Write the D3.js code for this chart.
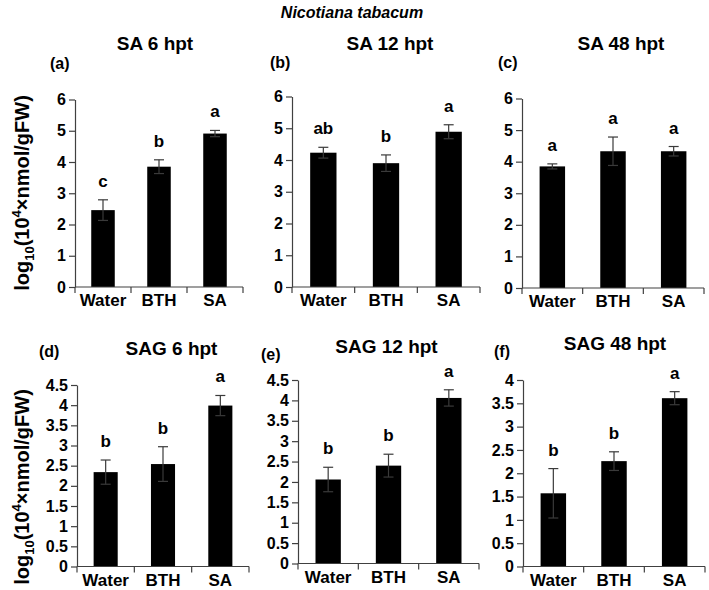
<!DOCTYPE html>
<html>
<head>
<meta charset="utf-8">
<script src="https://cdn.jsdelivr.net/npm/d3@7"></script>
<style>
  body { margin: 0; background: #fff; }
  svg text { font-family: "Liberation Sans", Arial, sans-serif; font-weight: bold; fill: #000; }
</style>
</head>
<body>
<div id="chart"></div>
<script>
// bar chart grid: 6 panels, mean +/- error, letters = significance groups

var categories = ["Water", "BTH", "SA"];
var panelTags = ["(a)", "(b)", "(c)", "(d)", "(e)", "(f)"];
var panelTitles = ["SA 6 hpt", "SA 12 hpt", "SA 48 hpt", "SAG 6 hpt", "SAG 12 hpt", "SAG 48 hpt"];
var yMax = [6, 6, 6, 4.5, 4.5, 4];
var yStep = [1, 1, 1, 0.5, 0.5, 0.5];

var means = [
    [2.46, 3.85, 4.91],
    [4.23, 3.90, 4.89],
    [3.85, 4.33, 4.33],
    [2.34, 2.54, 3.99],
    [2.06, 2.40, 4.06],
    [1.57, 2.26, 3.61]
];
var errors = [
    [0.33, 0.22, 0.10],
    [0.17, 0.26, 0.22],
    [0.08, 0.45, 0.15],
    [0.30, 0.43, 0.25],
    [0.30, 0.28, 0.20],
    [0.53, 0.20, 0.14]
];
var letters = [
    ["c", "b", "a"],
    ["ab", "b", "a"],
    ["a", "a", "a"],
    ["b", "b", "a"],
    ["b", "b", "a"],
    ["b", "b", "a"]
];

// where each panel sits on the page
var layout = [
    { x0: 75,  x1: 243, yTop: 99.5, y0: 287,   tx: 155,   ty: 50,  gx: 50,  gy: 69 },
    { x0: 292, x1: 480, yTop: 96.5, y0: 287,   tx: 390,   ty: 50,  gx: 270, gy: 68 },
    { x0: 522, x1: 704, yTop: 98.5, y0: 288,   tx: 621,   ty: 50,  gx: 498, gy: 68 },
    { x0: 77,  x1: 249, yTop: 385,  y0: 566.5, tx: 171.5, ty: 355, gx: 39,  gy: 357 },
    { x0: 298, x1: 479, yTop: 380,  y0: 563.5, tx: 386.5, ty: 353, gx: 261, gy: 360 },
    { x0: 523, x1: 705, yTop: 380,  y0: 566.5, tx: 615,   ty: 350, gx: 494, gy: 357 }
];

var axisColor = "#404040";

var svg = d3.select("#chart").append("svg")
    .attr("width", 709)
    .attr("height", 590);

// main title
svg.append("text")
    .attr("x", 352)
    .attr("y", 18)
    .attr("text-anchor", "middle")
    .style("font-size", "16px")
    .style("font-style", "italic")
    .text("Nicotiana tabacum");

// y axis titles, one per row
[193, 487].forEach(function (cy) {
    var t = svg.append("text")
        .attr("transform", "translate(29," + cy + ") rotate(-90)")
        .attr("text-anchor", "middle")
        .style("font-size", "20px");
    t.append("tspan").text("log");
    t.append("tspan").attr("dy", 5).style("font-size", "13px").text("10");
    t.append("tspan").attr("dy", -5).text("(10");
    t.append("tspan").attr("dy", -8).style("font-size", "13px").text("4");
    t.append("tspan").attr("dy", 8).text("\u00d7nmol/gFW)");
});

layout.forEach(function (L, i) {
    var g = svg.append("g");

    var x = d3.scaleBand().domain(categories).range([L.x0, L.x1]).padding(0);
    var y = d3.scaleLinear().domain([0, yMax[i]]).range([L.y0, L.yTop]);
    var barW = x.bandwidth() * 0.42;

    var data = categories.map(function (c, k) {
        return { cat: c, v: means[i][k], e: errors[i][k], lab: letters[i][k] };
    });

    // bars
    g.selectAll("rect.bar")
        .data(data)
        .enter().append("rect")
        .attr("class", "bar")
        .attr("x", function (d) { return x(d.cat) + x.bandwidth() / 2 - barW / 2; })
        .attr("width", barW)
        .attr("y", function (d) { return y(d.v); })
        .attr("height", function (d) { return y(0) - y(d.v); })
        .attr("fill", "#000");

    // error bars
    var eb = g.selectAll("g.err")
        .data(data)
        .enter().append("g")
        .attr("class", "err")
        .attr("stroke", "#3a3a3a")
        .attr("stroke-width", 1.2);
    eb.append("line")
        .attr("x1", function (d) { return x(d.cat) + x.bandwidth() / 2; })
        .attr("x2", function (d) { return x(d.cat) + x.bandwidth() / 2; })
        .attr("y1", function (d) { return y(d.v + d.e); })
        .attr("y2", function (d) { return y(d.v - d.e); });
    [1, -1].forEach(function (s) {
        eb.append("line")
            .attr("x1", function (d) { return x(d.cat) + x.bandwidth() / 2 - 5; })
            .attr("x2", function (d) { return x(d.cat) + x.bandwidth() / 2 + 5; })
            .attr("y1", function (d) { return y(d.v + s * d.e); })
            .attr("y2", function (d) { return y(d.v + s * d.e); });
    });

    // significance letters
    g.selectAll("text.sig")
        .data(data)
        .enter().append("text")
        .attr("class", "sig")
        .attr("x", function (d) { return x(d.cat) + x.bandwidth() / 2; })
        .attr("y", function (d) { return y(d.v + d.e) - 13; })
        .attr("text-anchor", "middle")
        .style("font-size", "17px")
        .text(function (d) { return d.lab; });

    // y axis
    var yAxis = g.append("g")
        .attr("transform", "translate(" + L.x0 + ",0)")
        .call(d3.axisLeft(y)
            .tickValues(d3.range(0, yMax[i] + yStep[i] / 2, yStep[i]))
            .tickFormat(function (d) { return String(d); })
            .tickSize(6)
            .tickSizeOuter(0)
            .tickPadding(3));
    yAxis.selectAll("path, line").attr("stroke", axisColor).attr("stroke-width", 1.2);
    yAxis.selectAll("text")
        .style("font-size", "16px")
        .style("font-family", "'Liberation Sans', Arial, sans-serif")
        .style("font-weight", "bold")
        .attr("fill", "#000");

    // x axis: line with ticks on category boundaries
    var xg = g.append("g").attr("stroke", axisColor).attr("stroke-width", 1.2);
    xg.append("line")
        .attr("x1", L.x0).attr("x2", L.x1)
        .attr("y1", y(0)).attr("y2", y(0));
    var bounds = categories.map(function (c) { return x(c); }).concat([L.x1]);
    xg.selectAll("line.tk")
        .data(bounds)
        .enter().append("line")
        .attr("class", "tk")
        .attr("x1", function (d) { return d; })
        .attr("x2", function (d) { return d; })
        .attr("y1", y(0))
        .attr("y2", y(0) + 6);

    g.selectAll("text.cat")
        .data(categories)
        .enter().append("text")
        .attr("class", "cat")
        .attr("x", function (d) { return x(d) + x.bandwidth() / 2; })
        .attr("y", y(0) + 19)
        .attr("text-anchor", "middle")
        .style("font-size", "17px")
        .text(function (d) { return d; });

    // panel title and tag
    g.append("text")
        .attr("x", L.tx)
        .attr("y", L.ty)
        .attr("text-anchor", "middle")
        .style("font-size", "19px")
        .text(panelTitles[i]);
    g.append("text")
        .attr("x", L.gx)
        .attr("y", L.gy)
        .style("font-size", "16px")
        .text(panelTags[i]);
});
</script>
</body>
</html>
